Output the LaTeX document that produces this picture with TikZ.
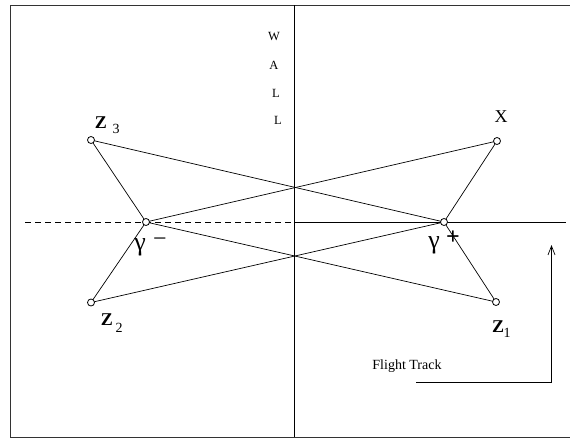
\documentclass[tikz,border=0pt]{standalone}
\usepackage{fontspec}
\setmainfont{Liberation Serif}
\usetikzlibrary{arrows.meta}
\begin{document}
\begin{tikzpicture}[x=1pt,y=-1pt,
  pt/.style={circle,draw,inner sep=0pt,minimum size=7pt,line width=0.8pt,fill=white},
  ln/.style={line width=0.7pt},
  lbl/.style={inner sep=0pt,font=\fontsize{18}{18}\selectfont},
  sub/.style={inner sep=0pt,font=\fontsize{14}{14}\selectfont},
  wall/.style={inner sep=0pt,font=\fontsize{12.5}{13}\selectfont}]
\useasboundingbox (0,0) rectangle (570,439);
\begin{scope}
\clip (0,0) rectangle (570,439);
\draw[line width=1pt,black!80] (10,5) -- (600,5);
\draw[line width=1pt,black!80] (10,5) -- (10,437) -- (600,437);
\end{scope}
\coordinate (wt) at (294,5);
\coordinate (wb) at (294,437);
\coordinate (wm) at (294,222);
\coordinate (dl) at (25,222);
\coordinate (rr) at (566,222);
\draw[ln] (wt) -- (wb);
\draw[ln,dashed,dash pattern=on 6pt off 4pt] (dl) -- (wm);
\draw[ln] (wm) -- (rr);
\coordinate (gm) at (146,222);
\coordinate (gp) at (444,222);
\coordinate (z3) at (91,140);
\coordinate (x) at (497,141);
\coordinate (z2) at (91,302.5);
\coordinate (z1) at (496,302);
\foreach \a in {z3,x,z2,z1} {
  \draw[ln] (\a) -- (gm);
  \draw[ln] (\a) -- (gp);
}
\node[pt] (nz3) at (z3) {};
\node[pt] (nx) at (x) {};
\node[pt] (nz2) at (z2) {};
\node[pt] (nz1) at (z1) {};
\node[pt] (ngm) at (gm) {};
\node[pt] (ngp) at (gp) {};
% labels
\node[lbl] (lz3) at (101,123) {\textbf{Z}};
\node[sub] (lz3s) at (116,129) {3};
\node[lbl] (lx) at (501,117) {X};
\node[lbl] (lz2) at (107,320) {\textbf{Z}};
\node[sub] (lz2s) at (119,328) {2};
\node[lbl] (lz1) at (498,327) {\textbf{Z}};
\node[sub] (lz1s) at (507,333) {1};
\node[inner sep=0pt,font=\fontsize{26}{26}\selectfont] (lgm) at (140,247) {γ};
\node[inner sep=0pt,font=\fontsize{24}{24}\selectfont] (lgms) at (160,242) {\textminus};
\node[inner sep=0pt,font=\fontsize{26}{26}\selectfont] (lgp) at (434,245) {γ};
\node[inner sep=0pt,font=\fontsize{24}{24}\selectfont\bfseries] (lgps) at (453,238) {+};
\node[wall] (w1) at (274,37) {W};
\node[wall] (w2) at (274,65) {A};
\node[wall] (w3) at (276,93) {L};
\node[wall] (w4) at (278,120) {L};
\node[inner sep=0pt,font=\fontsize{14}{14}\selectfont] (ft) at (407,366) {Flight Track};
\coordinate (fa) at (416,382);
\coordinate (fb) at (551.5,382);
\coordinate (fc) at (551.5,245);
\draw[ln,-{Straight Barb[length=9pt,width=7pt]}] (fa) -- (fb) -- (fc);
\end{tikzpicture}
\end{document}
